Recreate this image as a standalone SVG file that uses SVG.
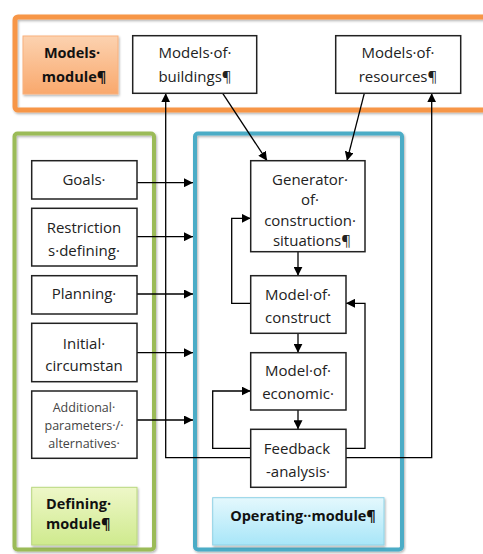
<svg xmlns="http://www.w3.org/2000/svg" width="483" height="554" viewBox="0 0 483 554">
<defs>
<linearGradient id="gO" x1="0" y1="0" x2="0" y2="1"><stop offset="0" stop-color="#FCD2B0"/><stop offset="1" stop-color="#F9A86C"/></linearGradient>
<linearGradient id="gG" x1="0" y1="0" x2="0" y2="1"><stop offset="0" stop-color="#EEF7C8"/><stop offset="1" stop-color="#CFEA8E"/></linearGradient>
<linearGradient id="gB" x1="0" y1="0" x2="0" y2="1"><stop offset="0" stop-color="#E4F8FD"/><stop offset="1" stop-color="#A8E6F8"/></linearGradient>
<marker id="ah" viewBox="0 0 10 10" refX="10" refY="5" markerWidth="9" markerHeight="9" markerUnits="userSpaceOnUse" orient="auto"><path d="M0,0 L10,5 L0,10 Z" fill="#000"/></marker>
<filter id="sh" x="-10%" y="-10%" width="120%" height="120%"><feDropShadow dx="1" dy="1.5" stdDeviation="1" flood-color="#000" flood-opacity="0.3"/></filter>
</defs>
<style>
text{font-family:"Open Sans","Liberation Sans",sans-serif;font-size:15px;fill:#222;text-anchor:middle}
.b{font-weight:bold;font-size:14.5px;fill:#111}
.s{font-size:12.5px;fill:#444}
.box{fill:#fff;stroke:#222;stroke-width:1.5}
.ca{fill:none;stroke:#000;stroke-width:1.3;marker-end:url(#ah)}
</style>
<rect width="483" height="554" fill="#fff"/>
<g id="models-module-frame"><rect x="15" y="17" width="480" height="93" rx="3" fill="none" stroke="#F79646" stroke-width="5" filter="url(#sh)"/></g>
<g id="defining-module-frame"><rect x="14.5" y="133.5" width="139.5" height="416" rx="3" fill="none" stroke="#9BBB59" stroke-width="4" filter="url(#sh)"/></g>
<g id="operating-module-frame"><rect x="195" y="133.5" width="207" height="416" rx="3" fill="none" stroke="#4BACC6" stroke-width="4" filter="url(#sh)"/></g>

<g id="connectors">
<line class="ca" x1="137" y1="182.7" x2="193" y2="182.7"/>
<line class="ca" x1="137" y1="236.7" x2="193" y2="236.7"/>
<line class="ca" x1="137" y1="294" x2="193" y2="294"/>
<line class="ca" x1="137" y1="352.7" x2="193" y2="352.7"/>
<line class="ca" x1="137" y1="420" x2="193" y2="420"/>
<line class="ca" x1="222.7" y1="93.3" x2="267" y2="160.7"/>
<line class="ca" x1="364.3" y1="93.3" x2="347" y2="160.7"/>
<line class="ca" x1="298" y1="251.7" x2="298" y2="275.7"/>
<line class="ca" x1="298" y1="333.3" x2="298" y2="352.7"/>
<line class="ca" x1="298" y1="410" x2="298" y2="429.3"/>
<polyline class="ca" points="250.7,303.3 231.7,303.3 231.7,218.3 250.7,218.3"/>
<polyline class="ca" points="250.7,448.3 212.7,448.3 212.7,391 250.7,391"/>
<polyline class="ca" points="346,448.3 365,448.3 365,303.3 346,303.3"/>
<polyline class="ca" points="250.7,457.7 165.7,457.7 165.7,93.3"/>
<polyline class="ca" points="346,457.7 431.7,457.7 431.7,93.3"/>
</g>

<g id="models-module"><rect x="23" y="36" width="95" height="58" fill="url(#gO)" stroke="#F9B17E" stroke-width="1" filter="url(#sh)"/><text class="b" x="72" y="58">Models·</text><text class="b" x="74" y="82">module¶</text></g>
<g id="models-of-buildings"><rect class="box" x="132.7" y="35.7" width="124" height="57.6"/><text x="195" y="58">Models·of·</text><text x="195" y="82">buildings¶</text></g>
<g id="models-of-resources"><rect class="box" x="335.7" y="35.7" width="125" height="57.6"/><text x="398" y="58">Models·of·</text><text x="398" y="82">resources¶</text></g>

<g id="goals"><rect class="box" x="31.7" y="160.7" width="105.3" height="38.3"/><text x="84" y="185">Goals·</text></g>
<g id="restrictions"><rect class="box" x="31.7" y="208.3" width="105.3" height="57.7"/><text x="84" y="232.5">Restriction</text><text x="84" y="255.5">s·defining·</text></g>
<g id="planning"><rect class="box" x="31.7" y="275.7" width="105.3" height="38.3"/><text x="84" y="299">Planning·</text></g>
<g id="initial"><rect class="box" x="31.7" y="323.3" width="105.3" height="58.4"/><text x="84" y="348.5">Initial·</text><text x="84" y="370.5">circumstan</text></g>
<g id="additional"><rect class="box" x="31.7" y="391" width="105.3" height="67.3"/><text class="s" x="84" y="411.5">Additional·</text><text class="s" x="84" y="429.5">parameters·/·</text><text class="s" x="84" y="447.5">alternatives·</text></g>
<g id="defining-module"><rect x="31.7" y="487.3" width="105.3" height="57.7" fill="url(#gG)" stroke="#B9D77F" stroke-width="1" filter="url(#sh)"/><text class="b" x="46" y="509" style="text-anchor:start">Defining·</text><text class="b" x="46" y="529" style="text-anchor:start">module¶</text></g>

<g id="generator"><rect class="box" x="250.7" y="160.7" width="114.3" height="91"/><text x="310" y="184.5">Generator·</text><text x="310" y="205">of·</text><text x="310" y="225.5">construction·</text><text x="312" y="245.5">situations¶</text></g>
<g id="model-construct"><rect class="box" x="250.7" y="275.7" width="95.3" height="57.6"/><text x="298" y="299.5">Model·of·</text><text x="298" y="322.5">construct</text></g>
<g id="model-economic"><rect class="box" x="250.7" y="352.7" width="95.3" height="57.3"/><text x="298" y="376">Model·of·</text><text x="298" y="398.5">economic·</text></g>
<g id="feedback"><rect class="box" x="250.7" y="429.3" width="95.3" height="58"/><text x="297" y="453.5">Feedback</text><text x="298" y="477">-analysis·</text></g>
<g id="operating-module"><rect x="212.7" y="497.7" width="171.3" height="47.3" fill="url(#gB)" stroke="#8FD3E6" stroke-width="1" filter="url(#sh)"/><text class="b" x="303" y="521">Operating··module¶</text></g>
</svg>
